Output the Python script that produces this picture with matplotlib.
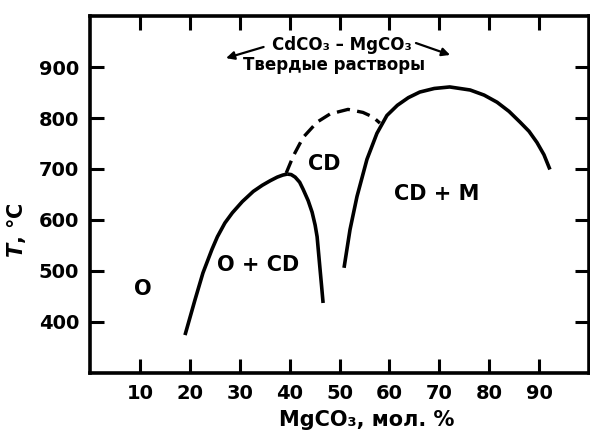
import numpy as np
import matplotlib.pyplot as plt
from matplotlib import font_manager

# pick a narrow bold face if one is installed
names = set(f.name for f in font_manager.fontManager.ttflist)
fam = 'DejaVu Sans'
for cand in ['Liberation Sans Narrow', 'DejaVu Sans Condensed']:
    if cand in names:
        fam = cand
        break
plt.rcParams['font.family'] = [fam, 'DejaVu Sans']
plt.rcParams['font.weight'] = 'bold'
plt.rcParams['axes.labelweight'] = 'bold'

# O / O+CD boundary (left branch)
x_left = [19.0, 21.0, 22.6, 24.4, 25.5, 27.0, 28.5, 30.5, 32.7, 34.5, 36.1, 37.5, 38.6, 39.5]
t_left = [374, 443, 496, 542, 567, 594, 614, 636, 656, 668, 677, 684, 688, 690]
# O+CD / CD boundary (right branch of left loop)
x_mid = [39.5, 40.3, 41.1, 42.0, 42.7, 43.7, 44.5, 45.1, 45.5, 46.1, 46.4, 46.7]
t_mid = [690, 689, 684, 674, 660, 638, 615, 590, 567, 502, 470, 437]
# dashed part (CD upper limit)
x_dash = [39.3, 40.7, 42.7, 45.5, 48.1, 51.7, 54.7, 56.7, 58.1]
t_dash = [692, 725, 762, 792, 808, 817, 811, 802, 790]
# CD / CD+M boundary
x_right = [50.9, 52.1, 53.5, 55.5, 57.5, 59.5, 61.6, 63.8, 66.1, 69.0,
           72.1, 76.2, 79.0, 81.6, 84.0, 86.2, 88.0, 89.6, 91.0, 92.2]
t_right = [506, 581, 646, 719, 770, 805, 825, 840, 851, 858,
           861, 855, 845, 831, 813, 792, 774, 752, 728, 699]

fig = plt.figure(figsize=(5.9, 4.36), dpi=100)
ax = fig.add_axes([0.153, 0.145, 0.845, 0.818])

ax.plot(x_left, t_left, color='k', lw=2.6, solid_capstyle='butt')
ax.plot(x_mid, t_mid, color='k', lw=2.6, solid_capstyle='butt')
ax.plot(x_dash, t_dash, color='k', lw=2.4, dashes=(4, 2.2))
ax.plot(x_right, t_right, color='k', lw=2.6, solid_capstyle='butt')

ax.set_xlim(0, 100)
ax.set_ylim(300, 1000)
ax.set_xticks([10, 20, 30, 40, 50, 60, 70, 80, 90])
ax.set_yticks([400, 500, 600, 700, 800, 900])
ax.tick_params(direction='in', length=10, width=2.2, top=True, right=True,
               labelsize=14, pad=8)
for s in ax.spines.values():
    s.set_linewidth(2.6)

ax.text(10.6, 465, 'O', fontsize=15, ha='center', va='center')
ax.text(33.7, 512, 'O + CD', fontsize=15, ha='center', va='center')
ax.text(47.0, 709, 'CD', fontsize=15, ha='center', va='center')
ax.text(69.5, 650, 'CD + M', fontsize=15, ha='center', va='center')

ax.text(50.5, 944, 'CdCO₃ – MgCO₃', fontsize=12, ha='center', va='center')
ax.text(49.0, 904, 'Твердые растворы', fontsize=12, ha='center', va='center')
ax.annotate('', xy=(26.7, 916), xytext=(35.3, 941),
            arrowprops=dict(arrowstyle='-|>', color='k', lw=1.6, mutation_scale=12))
ax.annotate('', xy=(72.7, 922), xytext=(64.8, 949),
            arrowprops=dict(arrowstyle='-|>', color='k', lw=1.6, mutation_scale=12))

ax.set_xlabel('MgCO₃, мол. %', fontsize=15, fontweight='bold')
ax.xaxis.set_label_coords(0.555, -0.105)
ax.set_ylabel('$\\mathbfit{T}$, °C', fontsize=15, fontweight='bold')
ax.yaxis.set_label_coords(-0.125, 0.4)

fig.savefig('out.png', dpi=100)
